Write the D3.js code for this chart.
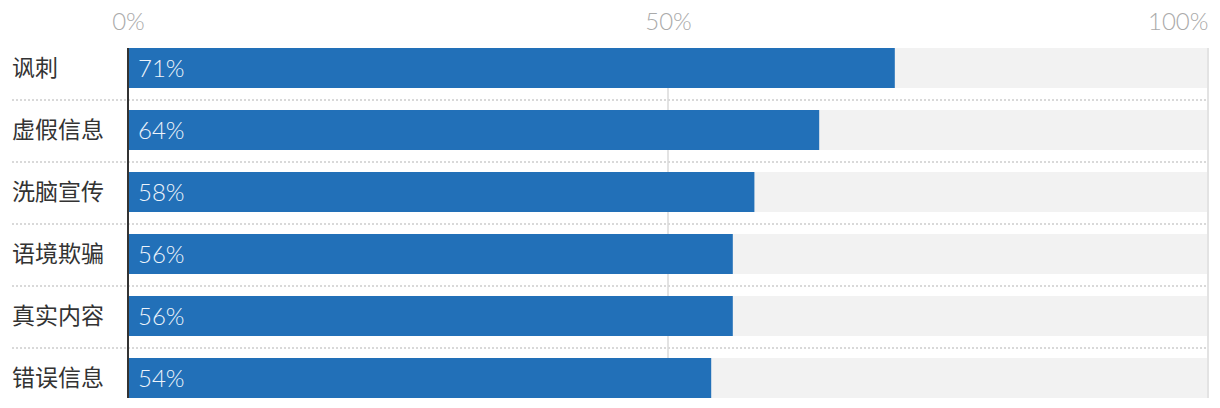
<!DOCTYPE html>
<html><head><meta charset="utf-8">
<script src="https://cdn.jsdelivr.net/npm/d3@7"></script>
<style>
body{margin:0;background:#fff;}
svg{display:block;}
</style></head>
<body><svg id="chart" width="1220" height="408"></svg>
<script>
const categories = ["讽刺","虚假信息","洗脑宣传","语境欺骗","真实内容","错误信息"];
const values = [71,64,58,56,56,54];
const tickValues = [0,50,100];
const tickLabels = ["0%","50%","100%"];

const svg = d3.select("#chart");
const x = d3.scaleLinear().domain([0,100]).range([128,1208]);
const y = d3.scaleBand().domain(categories).range([37,409]).paddingInner(0).paddingOuter(0);
const barH = 40;
const barY = c => y(c) + (y.bandwidth()-barH)/2;

// background bars
svg.selectAll("rect.bg").data(categories).join("rect")
  .attr("class","bg").attr("x",x(0)).attr("y",c=>barY(c))
  .attr("width",x(100)-x(0)).attr("height",barH).attr("fill","#f2f2f2");

// 50% & 100% gridlines
svg.selectAll("line.grid").data(tickValues.filter(d=>d>0)).join("line")
  .attr("class","grid").attr("x1",d=>x(d)).attr("x2",d=>x(d))
  .attr("y1",barY(categories[0])).attr("y2",barY(categories[categories.length-1])+barH)
  .attr("stroke","#e3e3e3").attr("stroke-width",2);

// separators
svg.selectAll("line.sep").data(categories.slice(1)).join("line")
  .attr("class","sep").attr("x1",12).attr("x2",x(100))
  .attr("y1",c=>y(c)+1).attr("y2",c=>y(c)+1)
  .attr("stroke","#d9d9d9").attr("stroke-width",2).attr("stroke-dasharray","2,2");

// value bars
svg.selectAll("rect.bar").data(categories).join("rect")
  .attr("class","bar").attr("x",x(0)).attr("y",c=>barY(c))
  .attr("width",(c,i)=>x(values[i])-x(0)).attr("height",barH).attr("fill","#2270b8");

// zero line
svg.append("line").attr("x1",x(0)).attr("x2",x(0))
  .attr("y1",barY(categories[0])).attr("y2",barY(categories[categories.length-1])+barH)
  .attr("stroke","#333").attr("stroke-width",2);

// top axis
const axis = d3.axisTop(x).tickValues(tickValues).tickFormat((d,i)=>tickLabels[i]).tickSize(0);
const ag = svg.append("g").attr("transform","translate(0,33)").call(axis);
ag.select(".domain").remove();
ag.selectAll("text").attr("fill","#aaaaaa").attr("font-size",24).attr("font-weight",300)
  .attr("font-family","Lato, 'Noto Sans', sans-serif").attr("dy",0)
  .attr("text-anchor",(d,i)=> i===tickValues.length-1 ? "end" : "middle");

// category labels
svg.selectAll("text.cat").data(categories).join("text")
  .attr("class","cat").attr("x",12).attr("y",c=>barY(c)+barH/2).attr("dy","0.36em")
  .attr("font-size",23).attr("fill","#333")
  .attr("font-family","'Noto Sans CJK SC', sans-serif").text(c=>c);

// value labels
svg.selectAll("text.val").data(categories).join("text")
  .attr("class","val").attr("x",x(0)+10).attr("y",c=>barY(c)+barH/2).attr("dy","0.36em")
  .attr("font-size",24).attr("font-weight",300).attr("fill","#eef4fb")
  .attr("font-family","Lato, 'Noto Sans', sans-serif").text((c,i)=>values[i]+"%");
</script></body></html>
